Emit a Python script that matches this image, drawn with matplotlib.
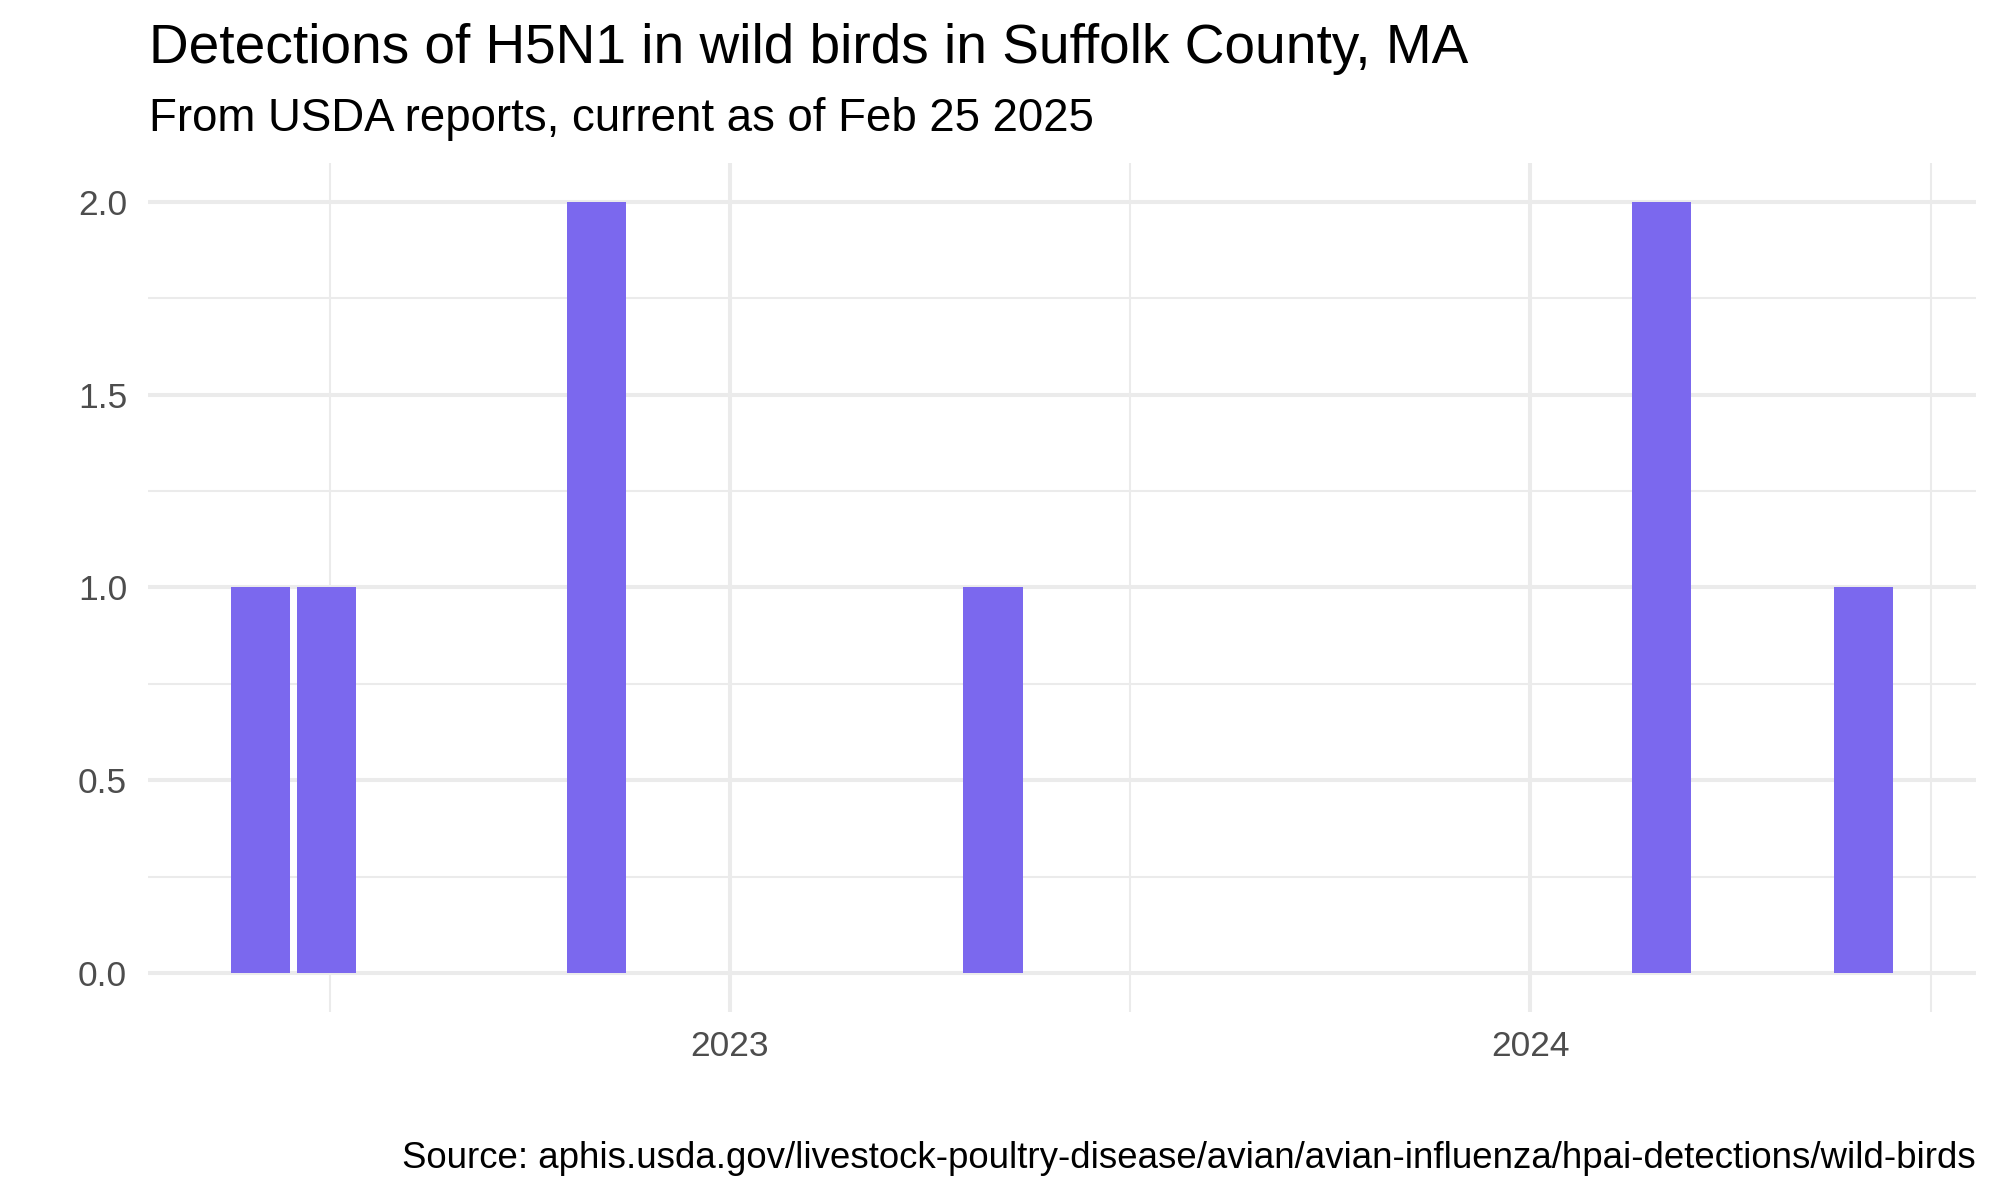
import matplotlib
matplotlib.use("Agg")
import matplotlib.pyplot as plt
import matplotlib.dates as mdates
from matplotlib.ticker import FixedLocator
import numpy as np
import datetime as dt

# Data
months = ["2022-06-01", "2022-07-01", "2022-11-01", "2023-05-01", "2024-03-01", "2024-06-01"]
counts = [1, 1, 2, 1, 2, 1]
y_ticks = [0.0, 0.5, 1.0, 1.5, 2.0]
y_tick_labels = ["0.0", "0.5", "1.0", "1.5", "2.0"]
y_minor = [0.25, 0.75, 1.25, 1.75]
years = [2022, 2023, 2024, 2025]

title = "Detections of H5N1 in wild birds in Suffolk County, MA"
subtitle = "From USDA reports, current as of Feb 25 2025"
caption = "Source: aphis.usda.gov/livestock-poultry-disease/avian/avian-influenza/hpai-detections/wild-birds"

plt.rcParams['font.family'] = ['Liberation Sans', 'DejaVu Sans']

BAR = "#7B68EE"
GRID = "#EBEBEB"
TICK = "#4D4D4D"

fig = plt.figure(figsize=(20, 12), dpi=100)
ax = fig.add_axes([0.074, 0.157, 0.914, 0.707])

x = mdates.date2num([dt.datetime.strptime(m, "%Y-%m-%d") for m in months])
width = 27.0
ax.bar(x, counts, width=width, color=BAR, zorder=3, linewidth=0)

xmin = x.min() - width / 2
xmax = x.max() + width / 2
span = xmax - xmin
ax.set_xlim(xmin - 0.05 * span, xmax + 0.05 * span)
ax.set_ylim(-0.1, 2.1)

year_starts = mdates.date2num([dt.datetime(y, 1, 1) for y in years])
mids = (year_starts[:-1] + year_starts[1:]) / 2
ax.xaxis.set_major_locator(mdates.YearLocator())
ax.xaxis.set_major_formatter(mdates.DateFormatter("%Y"))
ax.xaxis.set_minor_locator(FixedLocator(mids))
ax.set_yticks(y_ticks)
ax.set_yticklabels(y_tick_labels)
ax.set_yticks(y_minor, minor=True)

ax.grid(which='major', color=GRID, linewidth=2.9, zorder=0)
ax.grid(which='minor', color=GRID, linewidth=1.45, zorder=0)
ax.set_axisbelow(True)
for s in ax.spines.values():
    s.set_visible(False)
ax.tick_params(which='both', length=0)
ax.tick_params(axis='x', labelsize=25.5, labelcolor=TICK, pad=13)
ax.tick_params(axis='y', labelsize=25.5, labelcolor=TICK, pad=15)

fig.text(0.0745, 0.9475, title, fontsize=39.6, color='black', ha='left', va='baseline')
fig.text(0.0745, 0.8912, subtitle, fontsize=32.9, color='black', ha='left', va='baseline')
fig.text(0.988, 0.0267, caption, fontsize=26.4, color='black', ha='right', va='baseline')

fig.savefig("out.png", dpi=100, facecolor='white')
